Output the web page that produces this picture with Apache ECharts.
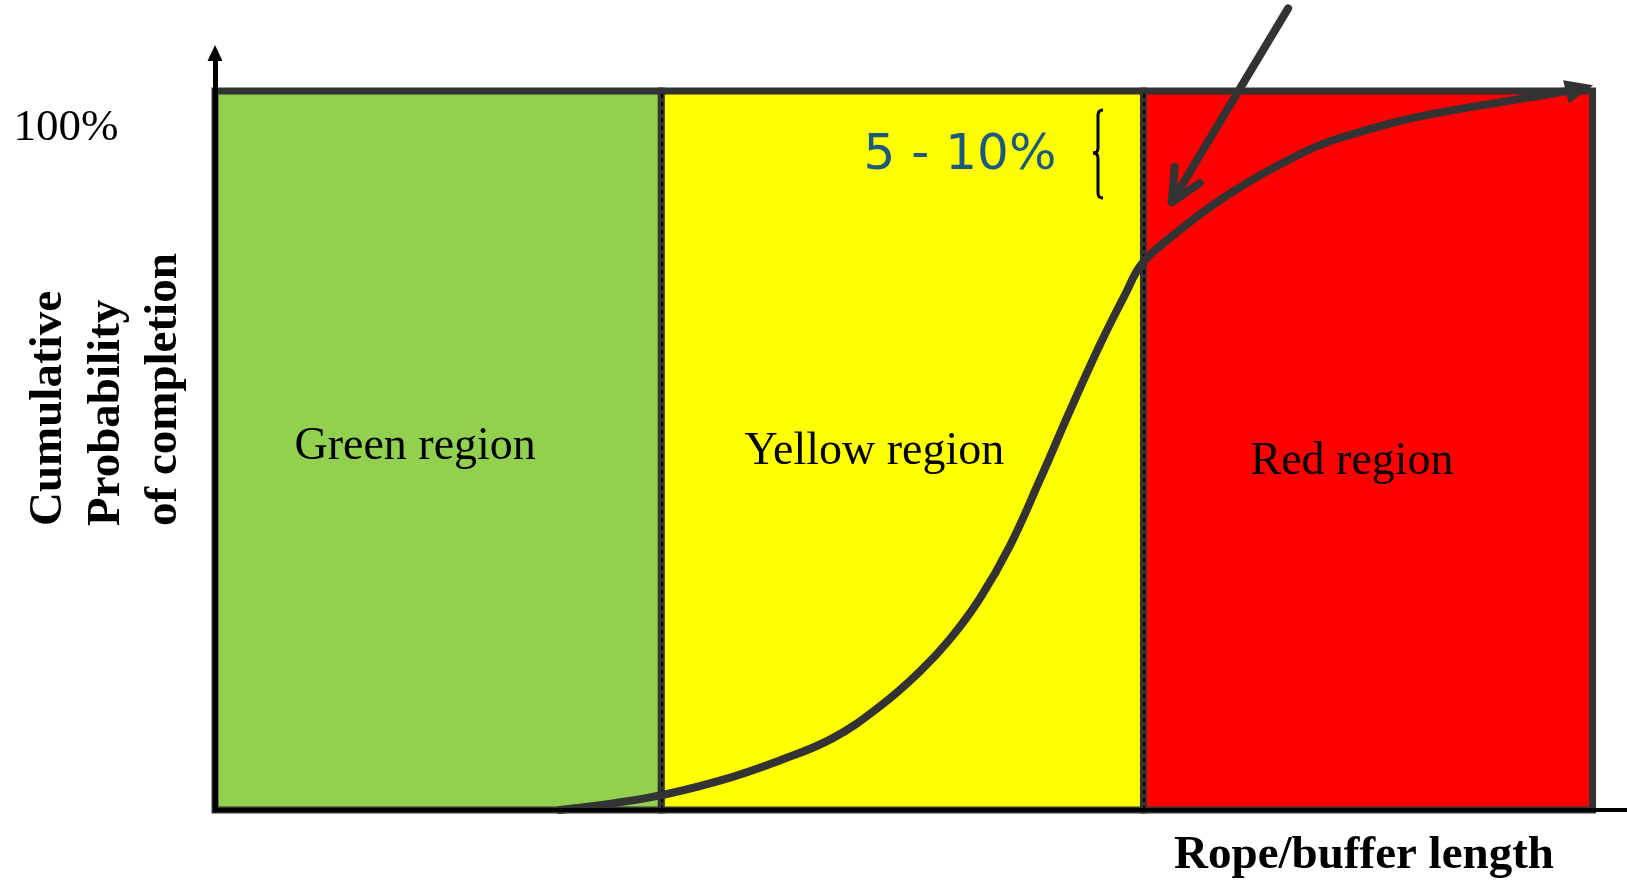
<!DOCTYPE html>
<html><head><meta charset="utf-8">
<script src="https://cdn.jsdelivr.net/npm/echarts@6/dist/echarts.min.js"></script>
<style>html,body{margin:0;padding:0;background:#fff}#c{width:1627px;height:881px}</style>
</head><body><div id="c"></div>
<script>
// ---- data ----
const regionNames = ['Green region', 'Yellow region', 'Red region'];
const regionBounds = [0, 32.4, 67.4, 100];
const regionColors = ['#92D050', '#FFFF00', '#FF0000'];
const curveX = [25.04, 31.57, 36.65, 41.00, 44.85, 48.26, 51.16, 53.34, 55.51, 57.69, 59.87, 62.05, 64.22, 66.04, 67.34, 70.03, 72.42, 74.89, 77.50, 80.19, 83.09, 85.99, 88.90, 91.80, 94.70, 96.88, 99.06];
const curveY = [0, 1.75, 4.09, 6.9, 10.0, 14.41, 19.25, 23.75, 29.39, 36.69, 45.87, 55.47, 64.64, 71.60, 76.11, 80.67, 84.14, 87.20, 89.99, 92.49, 94.30, 95.83, 97.01, 97.98, 98.89, 99.58, 100.35];
const pointerX = [77.9, 69.45];
const pointerY = [111.5, 84.56];
const chevronX = [69.67, 69.45, 71.48];
const chevronY = [89.43, 84.56, 87.2];
const topTickLabel = '100%';
const bandLabel = '5 - 10%';
const xTitle = 'Rope/buffer length';
const yTitleLines = ['Cumulative', 'Probability', 'of completion'];

// ---- chart ----
const chart = echarts.init(document.getElementById('c'), null, {renderer: 'canvas'});
const labelOffsets = [[-23, -4], [-28, 1], [-16, 11]];
const serif = "'Liberation Serif', 'Times New Roman', serif";

const areaData = regionNames.map((n, i) => [
  {
    name: n, xAxis: regionBounds[i], yAxis: 0,
    itemStyle: {color: regionColors[i], borderColor: '#333', borderWidth: 7, opacity: 1},
    label: {show: true, position: 'inside', offset: labelOffsets[i], color: '#000',
      fontFamily: serif, fontSize: 46, formatter: n}
  },
  {xAxis: regionBounds[i + 1], yAxis: 100}
]);

const curveData = curveX.map((x, i) => {
  if (i === curveX.length - 1) {
    return {value: [x, curveY[i]], symbol: 'triangle', symbolSize: [24, 28], symbolRotate: -76};
  }
  return {value: [x, curveY[i]], symbol: 'none'};
});

const braceStyle = {stroke: '#000', lineWidth: 3, fill: null};
const option = {
  animation: false,
  backgroundColor: '#fff',
  grid: {left: 215, right: 0, top: 53, bottom: 71, containLabel: false},
  xAxis: {
    type: 'value', min: 0, max: 102.5, z: 10,
    axisLine: {show: true, lineStyle: {color: '#000', width: 4}},
    axisTick: {show: false}, axisLabel: {show: false}, splitLine: {show: false}
  },
  yAxis: {
    type: 'value', min: 0, max: 105.3, z: 10,
    axisLine: {show: true, symbol: ['none', 'triangle'], symbolSize: [15, 16],
      lineStyle: {color: '#000', width: 5}},
    axisTick: {show: false}, axisLabel: {show: false}, splitLine: {show: false}
  },
  series: [
    {
      type: 'line', name: 'regions', data: [], z: 1, silent: true,
      markArea: {silent: true, data: areaData},
      markLine: {
        silent: true, symbol: ['none', 'none'], label: {show: false},
        lineStyle: {color: '#000', width: 2, type: [4, 4]},
        data: [regionBounds[1], regionBounds[2]].map(b => [{coord: [b, 0]}, {coord: [b, 100]}])
      }
    },
    {
      type: 'line', name: 'curve', z: 5, smooth: 0.4, showSymbol: true, clip: false,
      data: curveData,
      itemStyle: {color: '#333'},
      lineStyle: {color: '#333', width: 8, cap: 'round', join: 'round'}
    },
    {
      type: 'line', name: 'pointer', z: 6, clip: false, symbol: 'none',
      data: pointerX.map((x, i) => [x, pointerY[i]]),
      lineStyle: {color: '#333', width: 8, cap: 'round'}
    },
    {
      type: 'line', name: 'chevron', z: 6, clip: false, symbol: 'none',
      data: chevronX.map((x, i) => [x, chevronY[i]]),
      lineStyle: {color: '#333', width: 8, cap: 'round', join: 'round'}
    }
  ],
  graphic: [
    {type: 'text', x: 66, y: 128, z: 20, style: {text: topTickLabel, fill: '#000', font: '45px ' + serif, textAlign: 'center', textVerticalAlign: 'middle'}},
    {type: 'text', x: 960, y: 156, z: 20, style: {text: bandLabel, fill: '#1b5a7e', font: "50px 'DejaVu Sans', Verdana, sans-serif", textAlign: 'center', textVerticalAlign: 'middle'}},
    {type: 'text', x: 1364, y: 856, z: 20, style: {text: xTitle, fill: '#000', font: 'bold 47px ' + serif, textAlign: 'center', textVerticalAlign: 'middle'}},
    {type: 'text', x: 106.5, y: 526, rotation: Math.PI / 2, z: 20, style: {text: yTitleLines.join('\n'), fill: '#000', font: 'bold 47px ' + serif, lineHeight: 57.5, textAlign: 'left', textVerticalAlign: 'middle'}},
    {type: 'bezierCurve', z: 20, shape: {x1: 1103, y1: 110, cpx1: 1098, cpy1: 110, x2: 1098, y2: 115}, style: braceStyle},
    {type: 'line', z: 20, shape: {x1: 1098, y1: 115, x2: 1098, y2: 148}, style: braceStyle},
    {type: 'bezierCurve', z: 20, shape: {x1: 1098, y1: 148, cpx1: 1098, cpy1: 153, x2: 1093, y2: 153}, style: braceStyle},
    {type: 'bezierCurve', z: 20, shape: {x1: 1093, y1: 153, cpx1: 1098, cpy1: 153, x2: 1098, y2: 158}, style: braceStyle},
    {type: 'line', z: 20, shape: {x1: 1098, y1: 158, x2: 1098, y2: 193}, style: braceStyle},
    {type: 'bezierCurve', z: 20, shape: {x1: 1098, y1: 193, cpx1: 1098, cpy1: 198, x2: 1103, y2: 198}, style: braceStyle}
  ]
};
chart.setOption(option);
</script>
</body></html>
